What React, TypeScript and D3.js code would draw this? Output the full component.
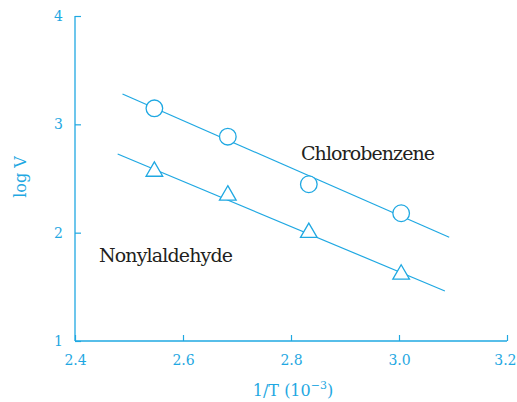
import React, { useEffect, useRef } from "react";
import * as d3 from "d3";

const chloroX = [2.547, 2.683, 2.833, 3.004];
const chloroY = [3.148, 2.886, 2.447, 2.179];
const nonylX = [2.547, 2.683, 2.833, 3.004];
const nonylY = [2.565, 2.345, 2.0, 1.615];

// fitted lines (endpoints)
const chloroFitX = [2.488, 3.093];
const chloroFitY = [3.28, 1.957];
const nonylFitX = [2.479, 3.085];
const nonylFitY = [2.726, 1.462];

const xTicks = [2.4, 2.6, 2.8, 3.0, 3.2];
const yTicks = [1, 2, 3, 4];

const BLUE = "#1fa8e2";
const TEXT = "#231f20";

const App = () => {
  const svgRef = useRef<SVGSVGElement>(null);

  useEffect(() => {
    const svg = d3.select(svgRef.current);
    svg.selectAll("*").remove();

    const x = d3.scaleLinear().domain([2.4, 3.2]).range([75, 507]);
    const y = d3.scaleLinear().domain([1, 4]).range([341, 16]);
    const font = "DejaVu Serif";

    // axes
    const xAxis = svg.append("g")
      .attr("transform", `translate(0,${y(1)})`)
      .call(d3.axisBottom(x).tickValues(xTicks).tickSize(-6).tickFormat(d3.format(".1f")));
    const yAxis = svg.append("g")
      .attr("transform", `translate(${x(2.4)},0)`)
      .call(d3.axisLeft(y).tickValues(yTicks).tickSize(-6).tickPadding(12).tickFormat(d3.format("d")));

    [xAxis, yAxis].forEach((g) => {
      g.select(".domain").remove();
      g.selectAll(".tick line").attr("stroke", BLUE).attr("stroke-width", 1.2);
      g.selectAll(".tick text")
        .attr("fill", BLUE)
        .style("font-family", font)
        .style("font-size", "14px");
    });
    xAxis.selectAll(".tick text").attr("dy", "0.71em").attr("y", 14);
    // keep the last label inside the frame
    xAxis.selectAll<SVGTextElement, number>(".tick text")
      .filter((d) => d === 3.2)
      .attr("text-anchor", "end")
      .attr("x", 9);

    // axis lines
    svg.append("line")
      .attr("x1", x(2.4)).attr("x2", x(3.2))
      .attr("y1", y(1)).attr("y2", y(1))
      .attr("stroke", BLUE).attr("stroke-width", 1.3);
    svg.append("line")
      .attr("x1", x(2.4)).attr("x2", x(2.4))
      .attr("y1", y(1)).attr("y2", y(4))
      .attr("stroke", BLUE).attr("stroke-width", 1.3);

    // fit lines
    const line = d3.line<[number, number]>().x((d) => x(d[0])).y((d) => y(d[1]));
    const fits = [
      d3.zip(chloroFitX, chloroFitY) as [number, number][],
      d3.zip(nonylFitX, nonylFitY) as [number, number][],
    ];
    svg.selectAll(".fit")
      .data(fits)
      .enter()
      .append("path")
      .attr("d", (d) => line(d))
      .attr("fill", "none")
      .attr("stroke", BLUE)
      .attr("stroke-width", 1.2);

    // circles
    svg.selectAll(".circ")
      .data(d3.zip(chloroX, chloroY))
      .enter()
      .append("circle")
      .attr("cx", (d) => x(d[0]))
      .attr("cy", (d) => y(d[1]))
      .attr("r", 8.3)
      .attr("fill", "white")
      .attr("stroke", BLUE)
      .attr("stroke-width", 1.3);

    // triangles
    const tri = d3.symbol().type(d3.symbolTriangle).size(120);
    svg.selectAll(".tri")
      .data(d3.zip(nonylX, nonylY))
      .enter()
      .append("path")
      .attr("d", tri() as string)
      .attr("transform", (d) => `translate(${x(d[0])},${y(d[1])})`)
      .attr("fill", "white")
      .attr("stroke", BLUE)
      .attr("stroke-width", 1.3);

    // series labels
    svg.append("text")
      .attr("x", 301).attr("y", 160)
      .style("font-family", font).style("font-size", "19px")
      .attr("textLength", 134)
      .attr("fill", TEXT)
      .text("Chlorobenzene");
    svg.append("text")
      .attr("x", 99).attr("y", 262)
      .style("font-family", font).style("font-size", "19px")
      .attr("textLength", 134)
      .attr("fill", TEXT)
      .text("Nonylaldehyde");

    // axis titles
    svg.append("text")
      .attr("transform", `translate(26,${177}) rotate(-90)`)
      .attr("text-anchor", "middle")
      .style("font-family", font).style("font-size", "16px")
      .attr("fill", BLUE)
      .text("log V");
    const xt = svg.append("text")
      .attr("x", 293).attr("y", 396)
      .attr("text-anchor", "middle")
      .style("font-family", font).style("font-size", "16px")
      .attr("fill", BLUE);
    xt.append("tspan").text("1/T (10");
    xt.append("tspan").style("font-size", "11px").attr("dy", -7).text("−3");
    xt.append("tspan").attr("dy", 7).text(")");
  }, []);

  return (
    <svg ref={svgRef} width={517} height={402} style={{ position: "absolute", left: 0, top: 0, background: "white" }} />
  );
};

export default App;
